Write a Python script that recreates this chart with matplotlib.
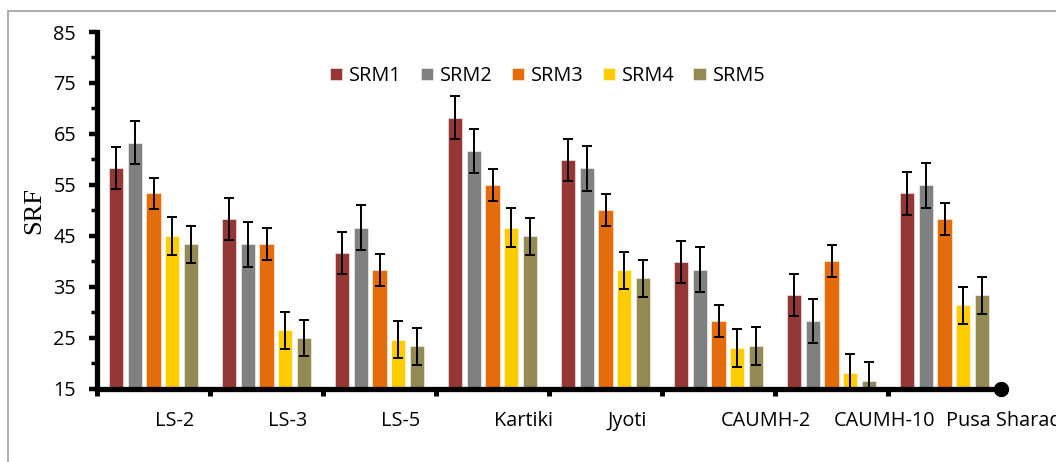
import matplotlib
matplotlib.use("Agg")
import matplotlib.pyplot as plt
import numpy as np
from matplotlib.patches import Rectangle

categories = ["LS-2", "LS-3", "LS-5", "Kartiki", "Jyoti", "CAUMH-2", "CAUMH-10", "Pusa Sharad"]
series_names = ["SRM1", "SRM2", "SRM3", "SRM4", "SRM5"]
srm1 = [58.3, 48.3, 41.6, 68.2, 59.9, 39.9, 33.3, 53.3]
srm2 = [63.3, 43.3, 46.6, 61.6, 58.2, 38.3, 28.3, 54.9]
srm3 = [53.3, 43.3, 38.3, 54.9, 50.0, 28.3, 40.0, 48.3]
srm4 = [44.9, 26.4, 24.6, 46.6, 38.2, 23.0, 18.0, 31.3]
srm5 = [43.3, 24.9, 23.3, 44.9, 36.6, 23.3, 16.5, 33.3]
err1 = [4.1, 4.2, 4.2, 4.2, 4.15, 4.15, 4.15, 4.2]
err2 = [4.3, 4.35, 4.4, 4.35, 4.35, 4.4, 4.35, 4.4]
err3 = [3.1, 3.15, 3.15, 3.15, 3.15, 3.15, 3.2, 3.15]
err4 = [3.7, 3.7, 3.7, 3.75, 3.7, 3.7, 3.7, 3.7]
err5 = [3.7, 3.6, 3.65, 3.65, 3.65, 3.7, 3.7, 3.65]
stub = [15.3, 15.3, 15.3, 15.3, 15.3, 15.3, 15.3, 15.3]
y_ticks = [15, 25, 35, 45, 55, 65, 75, 85]

values = [srm1, srm2, srm3, srm4, srm5]
errors = [err1, err2, err3, err4, err5]
colors = ["#953735", "#808080", "#E46C0A", "#FFCC00", "#948A54"]

W, H = 1056, 462
fig = plt.figure(figsize=(W / 100, H / 100), dpi=100)
FONT = "Open Sans"
FS = 14.3

ax = fig.add_axes([97 / W, (H - 388.5) / H, 904 / W, 356.5 / H])
n = len(categories)
slots = 6
base = np.arange(n) * slots
for j, (name, vals, errs, c) in enumerate(zip(series_names, values, errors, colors)):
    x = base + j + 1
    ax.bar(x, np.array(vals) - 15, bottom=15, width=0.75, color=c, label=name,
           edgecolor=(1, 1, 1, 0.6), linewidth=0.6, zorder=2)
    ax.errorbar(x, vals, yerr=errs, fmt="none", ecolor="black", elinewidth=1.4,
                capsize=3.8, capthick=1.4, zorder=3)
ax.bar(base + slots, np.array(stub) - 15, bottom=15, width=0.75, color="#d0d0d0", zorder=1)

ax.set_xlim(0, n * slots)
ax.set_ylim(15, 85)

for s in ["top", "right"]:
    ax.spines[s].set_visible(False)
for s in ["left", "bottom"]:
    ax.spines[s].set_linewidth(3.8)
    ax.spines[s].set_color("black")

ax.set_yticks(y_ticks)
ax.set_yticklabels([str(v) for v in y_ticks], fontfamily=FONT, fontsize=FS)
ax.set_yticks(np.arange(20, 85, 10), minor=True)
ax.tick_params(axis="y", which="major", direction="out", length=6, width=3.2, pad=9)
ax.tick_params(axis="y", which="minor", direction="out", length=4, width=2.5)

ax.set_xticks(base)
ax.set_xticklabels([])
ax.tick_params(axis="x", which="major", direction="out", length=5, width=3.6)
ax.set_xticks(base + 3.1, minor=True)
ax.set_xticklabels(categories, minor=True, fontfamily=FONT, fontsize=FS, ha="left", va="baseline")
ax.tick_params(axis="x", which="minor", length=0, pad=27)

ax.plot([1], [0], "o", color="black", markersize=10, transform=ax.transAxes,
        clip_on=False, zorder=5)

ax.set_ylabel("SRF", fontfamily="Liberation Serif", fontsize=19, labelpad=6)

leg = ax.legend(loc="center left", bbox_to_anchor=(330 / W, (H - 76) / H),
                bbox_transform=fig.transFigure, ncol=5, frameon=False,
                prop={"family": FONT, "size": FS}, handlelength=0.62, handleheight=0.62,
                handletextpad=0.35, columnspacing=0.95, borderpad=0, borderaxespad=0)

fig.patches.append(Rectangle((8 / W, -0.05), 1.2, (H - 11) / H + 0.05, transform=fig.transFigure,
                             fill=False, edgecolor="#a6a6a6", linewidth=1.3))

fig.savefig("out.png", dpi=100)
